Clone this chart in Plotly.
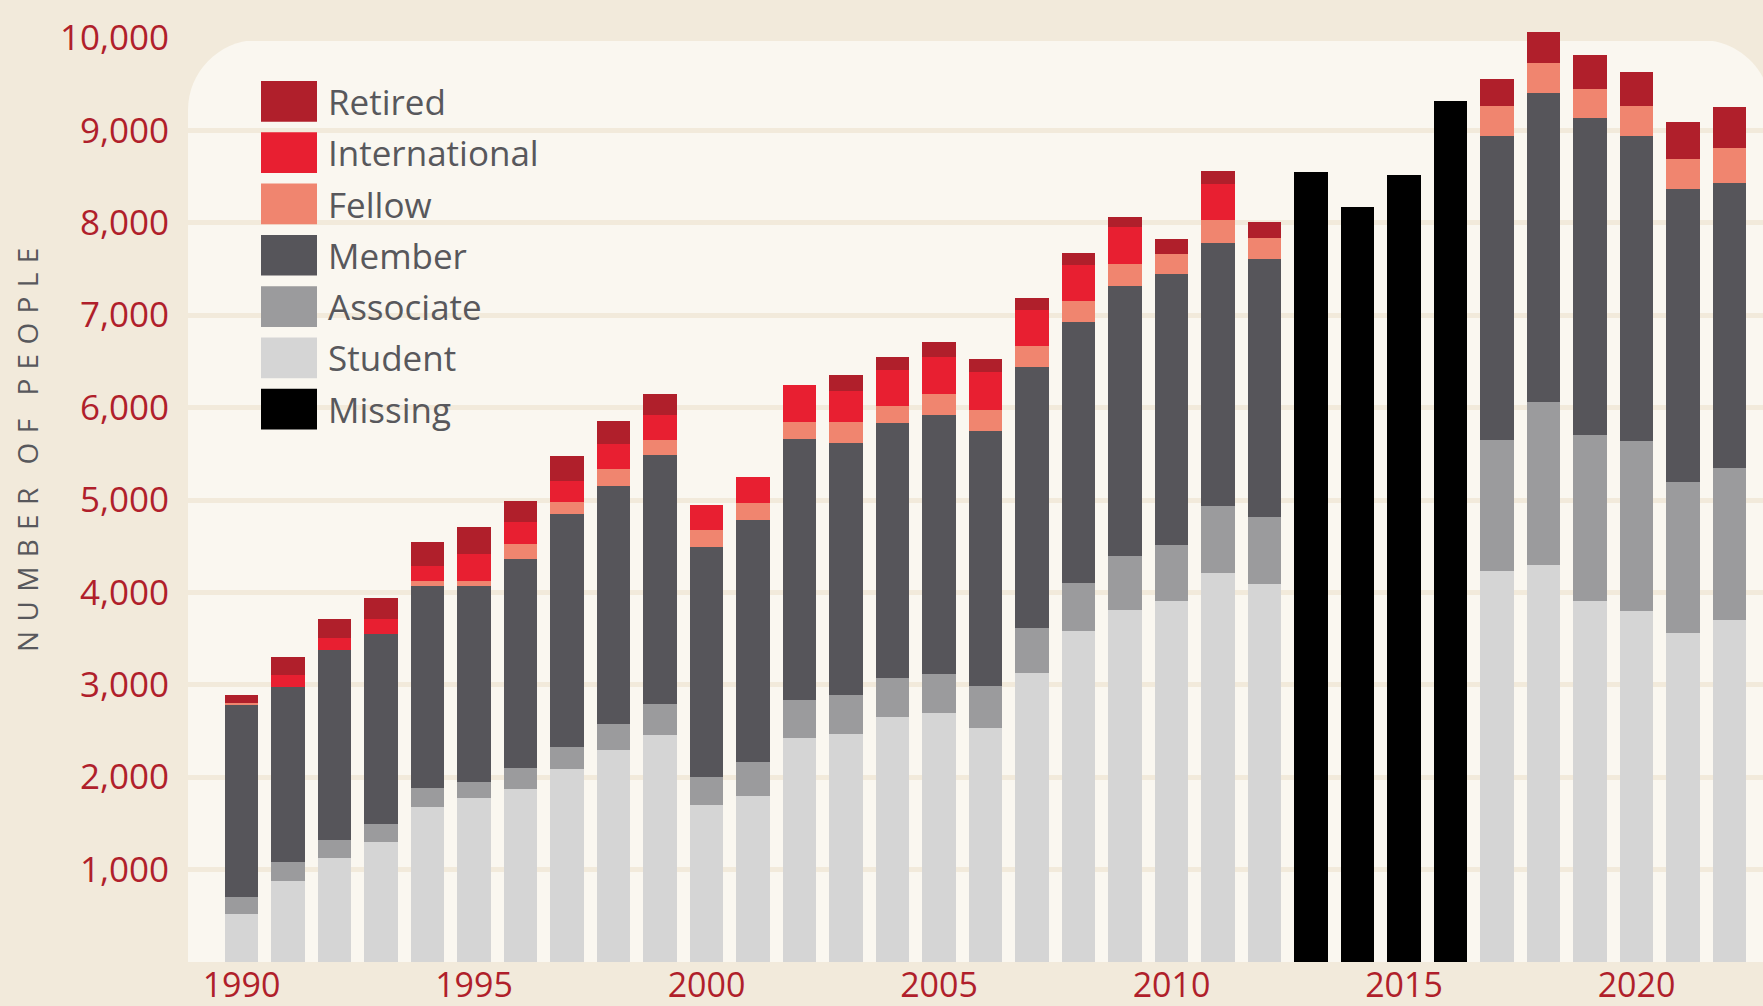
import plotly.graph_objects as go

# ── Data ─────────────────────────────────────────────────────────────────────
years = list(range(1990, 2023))
GAP = [None] * 4  # 2013-2016: no breakdown available

student = [522, 878, 1123, 1301, 1676, 1776, 1872, 2088, 2294, 2456, 1699, 1795,
           2425, 2468, 2652, 2694, 2532, 3128, 3583, 3810, 3906, 4210, 4091] + GAP + \
          [4236, 4302, 3906, 3803, 3561, 3703]
associate = [179, 203, 196, 191, 208, 173, 227, 237, 281, 337, 303, 369,
             410, 422, 422, 422, 453, 487, 519, 584, 607, 728, 725] + GAP + \
            [1413, 1759, 1801, 1836, 1635, 1642]
member = [2085, 1900, 2058, 2058, 2183, 2118, 2264, 2526, 2577, 2694, 2487, 2621,
          2825, 2727, 2759, 2804, 2762, 2824, 2824, 2922, 2933, 2843, 2792] + GAP + \
         [3290, 3344, 3427, 3300, 3170, 3086]
fellow = [19, 0, 0, 0, 58, 58, 161, 126, 183, 162, 185, 185,
          184, 227, 184, 227, 227, 228, 228, 238, 216, 249, 227] + GAP + \
         [325, 324, 314, 325, 324, 379]
international = [0, 123, 130, 161, 161, 292, 238, 230, 271, 271, 272, 279,
                 401, 336, 390, 401, 411, 389, 389, 401, 0, 390, 0] + GAP + \
                [0, 0, 0, 0, 0, 0]
retired = [85, 196, 204, 230, 262, 291, 226, 269, 249, 227, 0, 0,
           0, 173, 141, 162, 141, 130, 130, 108, 163, 141, 174] + GAP + \
          [292, 336, 368, 368, 401, 443]
missing = [None] * 23 + [8550, 8171, 8517, 9318] + [None] * 6

x_ticks = [1990, 1995, 2000, 2005, 2010, 2015, 2020]
y_ticks = list(range(1000, 10001, 1000))

# ── Style ────────────────────────────────────────────────────────────────────
BG = "#F2EADB"
PANEL = "#FAF7F0"
DARKRED = "#B01F2B"
GREYTXT = "#58585C"
FONT = "Open Sans"

series = [
    ("Student", student, "#D5D5D5"),
    ("Associate", associate, "#9B9B9D"),
    ("Member", member, "#56555A"),
    ("Fellow", fellow, "#F0856F"),
    ("International", international, "#E81F31"),
    ("Retired", retired, "#B01F2B"),
]
legend_order = ["Retired", "International", "Fellow", "Member",
                "Associate", "Student", "Missing"]
colors = {name: c for name, _, c in series}
colors["Missing"] = "#000000"

W, H = 1763, 1006
L, B = 188, 44
PW, PH = W - L, H - B          # plot area in px
px_per_year = 46.5
px_per_unit = 0.0924


def px(xp):                    # pixel -> paper x
    return (xp - L) / PW


def py(yp):                    # pixel -> paper y
    return (PH - yp) / PH


fig = go.Figure()
for name, vals, col in series:
    fig.add_trace(go.Bar(x=years, y=vals, name=name, marker_color=col,
                         marker_line_width=0, showlegend=False))
fig.add_trace(go.Bar(x=years, y=missing, name="Missing", marker_color="#000000",
                     marker_line_width=0, showlegend=False))

# rounded panel behind the plot
top, right, r = py(40), px(1771), 70
rx, ry, k = r / PW, r / PH, 0.45
panel = (f"M 0,0 L 0,{top - ry} C 0,{top - ry * k} {rx * k},{top} {rx},{top} "
         f"L {right - rx},{top} C {right - rx * k},{top} {right},{top - ry * k} {right},{top - ry} "
         f"L {right},0 Z")
fig.add_shape(type="path", path=panel, xref="paper", yref="paper",
              fillcolor=PANEL, line_width=0, layer="below")

# legend, drawn by hand for the big swatches
for i, name in enumerate(legend_order):
    y0 = 81 + 51.3 * i
    fig.add_shape(type="rect", xref="paper", yref="paper",
                  x0=px(261), x1=px(317), y0=py(y0 + 40.7), y1=py(y0),
                  fillcolor=colors[name], line_width=0)
    fig.add_annotation(text=name, xref="paper", yref="paper",
                       x=px(326), y=py(y0 + 20.5), xanchor="left", yanchor="middle",
                       showarrow=False, font=dict(family=FONT, size=35, color=GREYTXT))

# letter-spaced axis title
title = "\u2002\u2004".join("\u2004".join(w) for w in ["NUMBER", "OF", "PEOPLE"])
fig.add_annotation(text=title, xref="paper", yref="paper", x=px(27), y=py(450),
                   textangle=-90, showarrow=False, xanchor="center", yanchor="middle",
                   font=dict(family=FONT, size=28, color=GREYTXT))

x0 = 1990 - (241.5 - L) / px_per_year
fig.update_layout(
    barmode="stack", bargap=0.29,
    width=W, height=H,
    margin=dict(l=L, r=0, t=0, b=B),
    paper_bgcolor=BG, plot_bgcolor="rgba(0,0,0,0)",
    font=dict(family=FONT),
    xaxis=dict(range=[x0, x0 + PW / px_per_year], tickvals=x_ticks,
               ticktext=[str(t) for t in x_ticks], showgrid=False, zeroline=False,
               showline=False, ticks="", ticklabelstandoff=0, automargin=False,
               tickfont=dict(family=FONT, size=34, color=DARKRED)),
    yaxis=dict(range=[0, PH / px_per_unit], tickvals=y_ticks, tickformat=",d",
               showgrid=True, gridcolor=BG, gridwidth=5, zeroline=False,
               showline=False, ticks="", ticklabelstandoff=18, automargin=False,
               tickfont=dict(family=FONT, size=35, color=DARKRED)),
)

fig.write_html("out.html", config={"displayModeBar": False},
               post_script="document.body.style.margin='0';"
               "document.body.style.overflow='hidden';")
